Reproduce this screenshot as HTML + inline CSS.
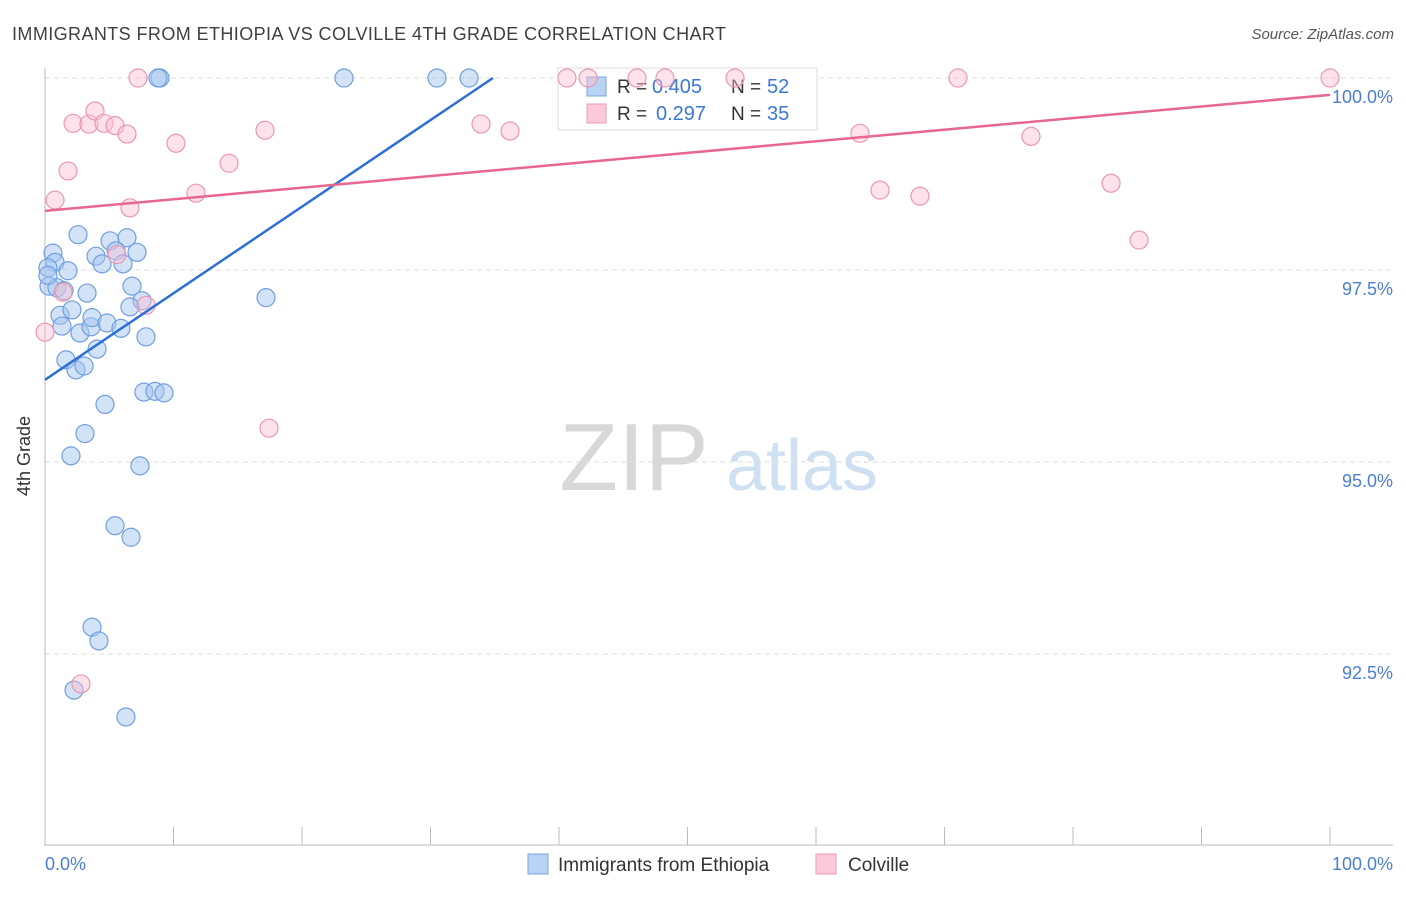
<!DOCTYPE html>
<html><head><meta charset="utf-8"><style>
body{margin:0;background:#fff;font-family:"Liberation Sans",sans-serif;}
svg text{font-family:"Liberation Sans",sans-serif;}
</style></head><body>
<svg width="1406" height="892" id="chart">
<text x="12" y="40" font-size="18" fill="#3f3f3f" textLength="714">IMMIGRANTS FROM ETHIOPIA VS COLVILLE 4TH GRADE CORRELATION CHART</text>
<text x="1394" y="39" font-size="15" fill="#555" font-style="italic" text-anchor="end">Source: ZipAtlas.com</text>
<text x="30" y="456" font-size="18" fill="#333" text-anchor="middle" transform="rotate(-90 30 456)">4th Grade</text>
<g>
<text x="634" y="490" font-size="96" fill="#d8d8d8" font-family="Liberation Serif" text-anchor="middle">ZIP</text>
<text x="802" y="490" font-size="72" fill="#cfe0f3" text-anchor="middle">atlas</text>
</g>
<g id="grid"></g>
<g>
<rect x="558" y="68" width="259" height="62" fill="#fff" stroke="#ddd"/>
<rect x="587" y="77" width="19" height="19" fill="#b9d3f4" stroke="#7aa6e3"/>
<rect x="587" y="104" width="19" height="19" fill="#fbc9d9" stroke="#ee9ab5"/>
<text x="617" y="93" font-size="19" fill="#333">R =</text>
<text x="652" y="93" font-size="20" fill="#3b78d8">0.405</text>
<text x="731" y="93" font-size="19" fill="#333">N =</text>
<text x="767" y="93" font-size="20" fill="#3b78d8">52</text>
<text x="617" y="120" font-size="19" fill="#333">R =</text>
<text x="656" y="120" font-size="20" fill="#3b78d8">0.297</text>
<text x="731" y="120" font-size="19" fill="#333">N =</text>
<text x="767" y="120" font-size="20" fill="#3b78d8">35</text>
</g>
<g id="pts"></g>
<g id="lines"></g>
<g>
<rect x="528" y="854" width="20" height="20" fill="#b9d3f4" stroke="#7aa6e3"/>
<text x="558" y="871" font-size="19" fill="#333">Immigrants from Ethiopia</text>
<rect x="816" y="854" width="20" height="20" fill="#fbc9d9" stroke="#ee9ab5"/>
<text x="848" y="871" font-size="19" fill="#333">Colville</text>
</g>
</svg>
<script>
const blueX=[0.62,0.78,0.23,1.79,0.31,0.93,1.48,3.27,1.17,2.1,1.32,2.72,3.58,3.66,4.05,1.63,2.41,3.04,4.67,3.11,2.02,7.39,5.45,6.69,3.66,4.2,2.26,6.3,2.57,5.06,6.38,5.53,7.16,3.97,4.44,6.07,6.77,7.55,6.61,4.82,5.91,7.86,7.7,8.56,9.26,17.2,8.95,8.79,23.27,30.5,33.0,0.23];
const blueY=[97.72,97.6,97.53,97.49,97.29,97.27,97.23,97.2,96.91,96.98,96.77,96.68,96.76,96.88,96.47,96.33,96.2,96.25,95.75,95.37,95.08,94.95,94.17,94.02,92.85,92.67,92.03,91.68,97.96,97.88,97.92,97.75,97.73,97.68,97.58,97.58,97.29,97.1,97.02,96.81,96.74,96.63,95.91,95.92,95.9,97.14,100,100,100,100,100,97.43];
const pinkX=[0,0.78,1.79,2.18,3.42,3.89,4.59,5.45,6.38,6.61,7.24,10.19,11.75,14.32,17.12,5.6,7.86,1.4,17.43,2.8,33.93,36.19,40.62,42.26,48.25,53.7,63.42,64.98,68.09,71.05,76.73,82.96,85.14,100,46.07];
const pinkY=[96.69,98.41,98.79,99.41,99.4,99.57,99.41,99.38,99.27,98.31,100,99.15,98.5,98.89,99.32,97.7,97.04,97.21,95.44,92.11,99.4,99.31,100,100,100,100,99.28,98.54,98.46,100,99.24,98.63,97.89,100,100];
const blueTrend=[[0,96.07],[34.86,100]];
const pinkTrend=[[0,98.27],[100,99.78]];
const yTicks=[100,97.5,95,92.5];
const yTickLabels=["100.0%","97.5%","95.0%","92.5%"];
const xTickLabels=["0.0%","100.0%"];
const NS="http://www.w3.org/2000/svg";
const sx=v=>45+v*12.85, sy=v=>78+(100-v)*76.8;
function mk(t,a,p){const e=document.createElementNS(NS,t);for(const k in a)e.setAttribute(k,a[k]);p.appendChild(e);return e;}
const grid=document.getElementById('grid');
yTicks.forEach((t,i)=>{
 const l=mk('line',{x1:45,x2:1393,y1:sy(t),y2:sy(t),stroke:'#ddd','stroke-dasharray':'5,4'},grid);
 
 
 const tx=mk('text',{x:1393,y:sy(t)+25,'font-size':18,fill:'#4a7fd4','text-anchor':'end'},grid);
 tx.textContent=yTickLabels[i];
 
 
});
mk('line',{x1:45,x2:45,y1:68,y2:846,stroke:'#bbb'},grid);
mk('line',{x1:45,x2:1393,y1:845,y2:845,stroke:'#bbb'},grid);
for(let i=0;i<=10;i++){const t=mk('line',{x1:sx(i*10),x2:sx(i*10),y1:827,y2:845,stroke:'#bbb'},grid);
 
 }
const x0=mk('text',{x:45,y:870,'font-size':18,fill:'#4a7fd4'},grid);x0.textContent=xTickLabels[0];


const x1=mk('text',{x:1393,y:870,'font-size':18,fill:'#4a7fd4','text-anchor':'end'},grid);x1.textContent=xTickLabels[1];


const pts=document.getElementById('pts');
blueX.forEach((x,i)=>{const c=mk('circle',{cx:sx(x),cy:sy(blueY[i]),r:9,fill:'rgba(165,197,240,0.5)',stroke:'#6f9fe0','stroke-width':1.2},pts);
 
 });
pinkX.forEach((x,i)=>{const c=mk('circle',{cx:sx(x),cy:sy(pinkY[i]),r:9,fill:'rgba(250,190,210,0.45)',stroke:'#ec97b2','stroke-width':1.2},pts);
 
 });
const lines=document.getElementById('lines');
const bl=mk('line',{x1:sx(blueTrend[0][0]),y1:sy(blueTrend[0][1]),x2:sx(blueTrend[1][0]),y2:sy(blueTrend[1][1]),stroke:'#2d6fd6','stroke-width':2.5},lines);


const pl=mk('line',{x1:sx(pinkTrend[0][0]),y1:sy(pinkTrend[0][1]),x2:sx(pinkTrend[1][0]),y2:sy(pinkTrend[1][1]),stroke:'#e8678f','stroke-width':2.5},lines);


</script>
</body></html>
